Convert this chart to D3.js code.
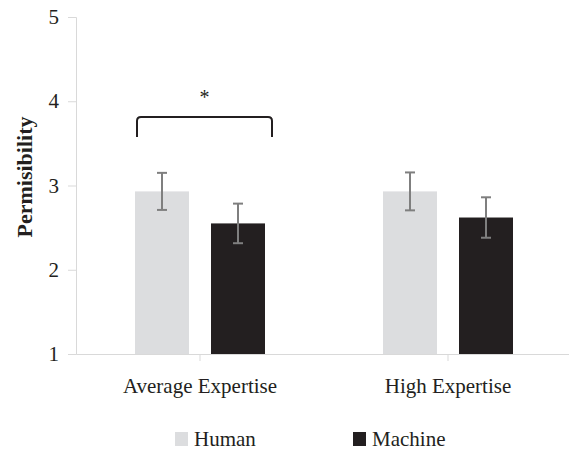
<!DOCTYPE html>
<html>
<head>
<meta charset="utf-8">
<script src="https://cdn.jsdelivr.net/npm/d3@7/dist/d3.min.js"></script>
<style>
  html, body { margin: 0; padding: 0; background: #fff; }
  svg { display: block; font-family: "Liberation Serif", "Times New Roman", serif; }
</style>
</head>
<body>
<svg id="chart" width="569" height="449"></svg>
<script>
// Mean permissibility ratings with error bars, by expertise level and agent
const categories = ["Average Expertise", "High Expertise"];
const series = ["Human", "Machine"];
const humanMeans = [2.93, 2.93];
const machineMeans = [2.55, 2.62];
const humanErrors = [0.22, 0.225];
const machineErrors = [0.235, 0.24];
const yTicks = [1, 2, 3, 4, 5];
const colors = { Human: "#dcdddf", Machine: "#231f20" };

const FONT = "Liberation Serif";
const svg = d3.select("#chart");
const x0 = d3.scaleBand().domain(categories).range([76, 572]);
const y = d3.scaleLinear().domain([1, 5]).range([354, 17]);

const rows = [];
categories.forEach((c, i) => {
  rows.push({ cat: c, s: "Human", v: humanMeans[i], e: humanErrors[i] });
  rows.push({ cat: c, s: "Machine", v: machineMeans[i], e: machineErrors[i] });
});

const x1 = d3.scaleBand().domain(series).range([-65, 65]).paddingInner(0.2895);
const cx = c => x0(c) + x0.bandwidth() / 2;

// Y axis
const yAxis = svg.append("g").attr("transform", "translate(76,0)")
  .call(d3.axisLeft(y).tickValues(yTicks).tickSize(8).tickPadding(9).tickFormat(d3.format("d")));
yAxis.select(".domain").attr("stroke", "#d9d9d9");
yAxis.selectAll(".tick line").attr("stroke", "#d9d9d9");
yAxis.selectAll(".tick text").attr("font-size", 21).attr("fill", "#231f20")
  .attr("font-family", FONT);

// Bars
svg.append("g").selectAll("rect").data(rows).join("rect")
  .attr("x", d => cx(d.cat) + x1(d.s))
  .attr("width", x1.bandwidth())
  .attr("y", d => y(d.v))
  .attr("height", d => y(1) - y(d.v))
  .attr("fill", d => colors[d.s]);

// X axis
const xAxis = svg.append("g").attr("transform", "translate(0,354)")
  .call(d3.axisBottom(x0).tickSizeInner(7).tickSizeOuter(0).tickPadding(17));
xAxis.select(".domain").attr("stroke", "#d9d9d9");
xAxis.selectAll(".tick line").attr("stroke", "#d9d9d9");
xAxis.selectAll(".tick text").attr("font-size", 21).attr("fill", "#231f20")
  .attr("font-family", FONT).attr("dy", "0.71em");

// Error bars
const eb = svg.append("g").attr("stroke", "#7f7f7f").attr("stroke-width", 2).attr("fill", "none");
rows.forEach(d => {
  const mx = cx(d.cat) + x1(d.s) + x1.bandwidth() / 2;
  const top = y(d.v + d.e), bot = y(d.v - d.e);
  eb.append("line").attr("x1", mx).attr("x2", mx).attr("y1", top).attr("y2", bot);
  eb.append("line").attr("x1", mx - 5).attr("x2", mx + 5).attr("y1", top).attr("y2", top);
  eb.append("line").attr("x1", mx - 5).attr("x2", mx + 5).attr("y1", bot).attr("y2", bot);
});

// Significance bracket between human and machine at average expertise
const bL = cx(categories[0]) + x1("Human") + 2;
const bR = cx(categories[0]) + x1("Machine") + x1.bandwidth() + 7;
const bTop = 117, bBot = 137, r = 4;
svg.append("path")
  .attr("d", `M${bL},${bBot} L${bL},${bTop + r} Q${bL},${bTop} ${bL + r},${bTop} L${bR - r},${bTop} Q${bR},${bTop} ${bR},${bTop + r} L${bR},${bBot}`)
  .attr("fill", "none").attr("stroke", "#231f20").attr("stroke-width", 2);
svg.append("text").attr("x", (bL + bR) / 2).attr("y", 104).attr("text-anchor", "middle")
  .attr("font-size", 20).attr("fill", "#231f20").text("*");

// Y axis title
svg.append("text")
  .attr("transform", "translate(32,177) rotate(-90)")
  .attr("text-anchor", "middle").attr("font-weight", "bold").attr("font-size", 22)
  .attr("fill", "#231f20").text("Permisibility");

// Legend
const legend = svg.append("g");
const legendX = [175, 353];
series.forEach((s, i) => {
  legend.append("rect").attr("x", legendX[i]).attr("y", 432).attr("width", 13).attr("height", 14)
    .attr("fill", colors[s]);
  legend.append("text").attr("x", legendX[i] + 19).attr("y", 445.5)
    .attr("font-size", 21).attr("fill", "#231f20").text(s);
});
</script>
</body>
</html>
